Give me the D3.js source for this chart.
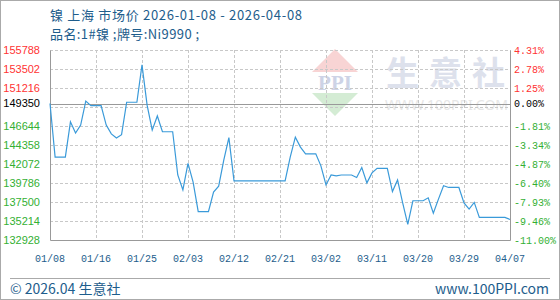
<!DOCTYPE html>
<html>
<head>
<meta charset="utf-8">
<script src="https://cdn.jsdelivr.net/npm/d3@7"></script>
<style>
  body { margin: 0; background: #fff; }
</style>
</head>
<body>
<div id="chart"></div>
<script>
// daily market price, 2026-01-08 .. 2026-04-08 (one value per calendar day)
const startDate = new Date(2026, 0, 8);
const endDate = new Date(2026, 3, 8);
const prices = [
  149350, 142900, 142900, 142900, 147150, 145800, 146750, 149650, 149100, 149100,
  149100, 146750, 145700, 145200, 145600, 149500, 149500, 149500, 154000, 149150,
  146150, 147850, 145950, 145950, 145950, 140750, 138950, 142150, 139900, 136350,
  136350, 136350, 138700, 139400, 142550, 145250, 140050, 140050, 140050, 140050,
  140050, 140050, 140050, 140050, 140050, 140050, 140050, 142900, 145300, 144100,
  143300, 143300, 143300, 141850, 139550, 140750, 140650, 140750, 140750, 140750,
  140450, 141650, 139800, 141000, 141550, 141550, 141550, 138750, 140150, 137400,
  134800, 137650, 137650, 137650, 138000, 136150, 137850, 139450, 139250, 139250,
  139250, 137400, 136650, 137450, 135650, 135650, 135650, 135650, 135650, 135650,
  135400
];
const basePrice = 149350;

const xTickLabels = ["01/08", "01/16", "01/25", "02/03", "02/12", "02/21", "03/02", "03/11", "03/20", "03/29", "04/07"];
const yGridValues = [155788, 153502, 151216, 148930, 146644, 144358, 142072, 139786, 137500, 135214, 132928];
const yLabelValues = [155788, 153502, 151216, 149350, 146644, 144358, 142072, 139786, 137500, 135214, 132928];
const yRightLabels = ["4.31%", "2.78%", "1.25%", "0.00%", "-1.81%", "-3.34%", "-4.87%", "-6.40%", "-7.93%", "-9.46%", "-11.00%"];

const width = 560, height = 300;
const margin = { top: 50, right: 50, bottom: 60, left: 50 };
const blue = "#1d5d8c";
const red = "#ff3333", green = "#33b033";

const svg = d3.select("#chart").append("svg")
  .attr("width", width)
  .attr("height", height)
  .style("display", "block");

const x = d3.scaleTime()
  .domain([startDate, endDate])
  .range([margin.left, width - margin.right]);

const y = d3.scaleLinear()
  .domain([132928, 155788])
  .range([height - margin.bottom, margin.top]);

const crisp = v => Math.round(v) + 0.5;

// outer frame
svg.append("rect")
  .attr("x", 0.5).attr("y", 0.5)
  .attr("width", width - 1).attr("height", height - 1)
  .attr("fill", "none").attr("stroke", "#aaa");

// titles
const cjk = "'Noto Sans CJK SC', 'Noto Sans', sans-serif";
svg.append("text")
  .attr("x", 50).attr("y", 20)
  .attr("fill", blue).style("font", `13px ${cjk}`)
  .attr("textLength", 252)
  .text("镍 上海 市场价 2026-01-08 - 2026-04-08");
svg.append("text")
  .attr("x", 50).attr("y", 39)
  .attr("fill", blue).style("font", `13px ${cjk}`)
  .attr("textLength", 149)
  .text("品名:1#镍 ;牌号:Ni9990 ;");

// watermark
const wm = svg.append("g");
wm.append("path")
  .attr("d", "M335,49 L358,72 L312,72 Z")
  .attr("fill", "#f8d4d4");
wm.append("path")
  .attr("d", "M312,93 L358,93 L335,116 Z")
  .attr("fill", "#d4ecd4");
wm.append("text")
  .attr("x", 335).attr("y", 90)
  .attr("text-anchor", "middle")
  .attr("fill", "#cdd3e6")
  .style("font", "bold 21px 'Liberation Serif', serif")
  .text("PPI");
wm.append("text")
  .attr("x", 386).attr("y", 85)
  .attr("fill", "#dde1ec")
  .attr("letter-spacing", 10)
  .style("font", `bold 33px ${cjk}`)
  .text("生意社");
wm.append("text")
  .attr("x", 385).attr("y", 110)
  .attr("fill", "#e6e6e6")
  .attr("textLength", 123)
  .style("font", "14px 'Noto Sans', sans-serif")
  .text("WWW.100PPI.COM");

// grid
const tickDates = xTickLabels.map((_, i) => d3.timeDay.offset(startDate, i * 9));
svg.append("g")
  .selectAll("line")
  .data(yGridValues.slice(0, -1))
  .join("line")
  .attr("x1", margin.left).attr("x2", width - margin.right)
  .attr("y1", d => crisp(y(d))).attr("y2", d => crisp(y(d)))
  .attr("stroke", "#c8c8c8").attr("stroke-dasharray", "3,2");
svg.append("g")
  .selectAll("line")
  .data(tickDates.slice(1))
  .join("line")
  .attr("x1", d => crisp(x(d))).attr("x2", d => crisp(x(d)))
  .attr("y1", margin.top).attr("y2", height - margin.bottom)
  .attr("stroke", "#c8c8c8").attr("stroke-dasharray", "3,2");

// base line
svg.append("line")
  .attr("x1", margin.left).attr("x2", width - margin.right)
  .attr("y1", crisp(y(basePrice))).attr("y2", crisp(y(basePrice)))
  .attr("stroke", "#999");

// plot frame (left, bottom, right solid)
const x0 = crisp(margin.left), x1 = crisp(width - margin.right);
const yb = crisp(height - margin.bottom), yt = crisp(margin.top);
svg.append("path")
  .attr("d", `M${x0},${yt} L${x0},${yb} L${x1},${yb} L${x1},${yt}`)
  .attr("fill", "none").attr("stroke", "#999");

// price line
const line = d3.line()
  .x((d, i) => x(d3.timeDay.offset(startDate, i)))
  .y(d => y(d));
svg.append("path")
  .datum(prices)
  .attr("fill", "none")
  .attr("stroke", "#3a9ad9")
  .attr("stroke-width", 1.2)
  .attr("d", line);

// left axis labels
const labelColor = v => v > basePrice ? red : (v < basePrice ? green : "#000");
svg.append("g")
  .selectAll("text")
  .data(yLabelValues)
  .join("text")
  .attr("x", 40)
  .attr("y", d => y(d))
  .attr("dy", "0.35em")
  .attr("text-anchor", "end")
  .attr("fill", labelColor)
  .style("font", "11px 'Liberation Sans', Arial, sans-serif")
  .text(d => d);

// right axis labels
svg.append("g")
  .selectAll("text")
  .data(yLabelValues)
  .join("text")
  .attr("x", 514)
  .attr("y", d => y(d))
  .attr("dy", "0.35em")
  .attr("fill", labelColor)
  .style("font", "10px 'Liberation Mono', monospace")
  .text((d, i) => yRightLabels[i]);

// x labels
svg.append("g")
  .selectAll("text")
  .data(tickDates)
  .join("text")
  .attr("x", d => x(d))
  .attr("y", 262)
  .attr("text-anchor", "middle")
  .attr("fill", blue)
  .style("font", "10px 'Liberation Mono', monospace")
  .text((d, i) => xTickLabels[i]);

// footer
svg.append("line")
  .attr("x1", 10).attr("x2", 550)
  .attr("y1", 278.5).attr("y2", 278.5)
  .attr("stroke", "#aaa");
svg.append("text")
  .attr("x", 10).attr("y", 294)
  .attr("fill", blue).style("font", `14px ${cjk}`)
  .text("© 2026.04 生意社");
svg.append("text")
  .attr("x", 549).attr("y", 294)
  .attr("text-anchor", "end")
  .attr("fill", blue).style("font", `14px ${cjk}`)
  .text("www.100PPI.com");
</script>
</body>
</html>
